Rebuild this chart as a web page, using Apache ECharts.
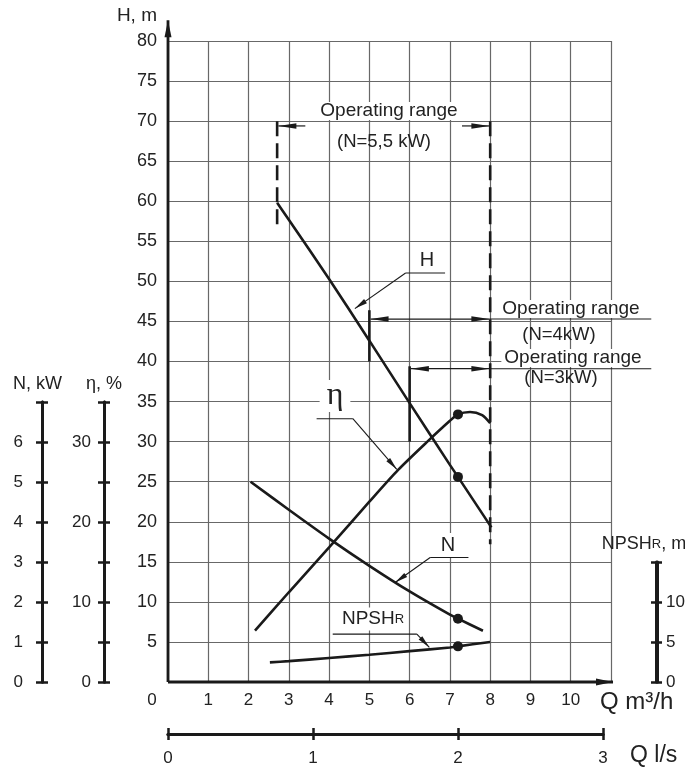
<!DOCTYPE html>
<html><head><meta charset="utf-8">
<script src="https://cdn.jsdelivr.net/npm/echarts@6/dist/echarts.min.js"></script>
<style>html,body{margin:0;padding:0;background:#fff}#c{width:685px;height:767px}</style>
</head><body><div id="c"></div>
<script>
// ---------- data (Q in m3/h) ----------
const hQ = [2.71, 3, 4, 5, 6, 7, 7.2, 8.03];
const hVal = [59.8, 57.7, 50.3, 42.6, 34.8, 27.1, 25.6, 19.3];          // H, m
const etaQ = [2.16, 3, 4, 5, 5.72, 6.44, 7.0, 7.2, 7.5, 7.8, 8.0];
const etaVal = [6.4, 11.2, 16.8, 22.5, 26.5, 30.0, 32.6, 33.4, 33.7, 33.3, 32.3]; // eta, %
const nQ = [2.05, 3, 4, 5, 6, 7, 7.2, 7.82];
const nVal = [5.0, 4.3, 3.58, 2.9, 2.26, 1.68, 1.58, 1.28];              // N, kW
const npshQ = [2.53, 3, 4, 5, 6, 7, 7.2, 8.0];
const npshVal = [2.45, 2.6, 3.0, 3.4, 3.85, 4.3, 4.45, 5.0];              // NPSHr, m
const dotQ = 7.2;

// tick labels
const qTicks = [0,1,2,3,4,5,6,7,8,9,10];
const lsTicks = [0,1,2,3];
const hTicks = [5,10,15,20,25,30,35,40,45,50,55,60,65,70,75,80];
const nTicks = [0,1,2,3,4,5,6];
const etaTicks = [0,10,20,30];
const npshTicks = [0,5,10];

// annotations (data units: Q m3/h, H m)
const axisArrows = [[0,0,0,82.6],[0,0,11.05,0]];
const rangeDashed = [[2.71,70,56.6],[8.0,70,17.2]];
const rangeBars = [[5,40,46.4],[6,30,39.4]];
const rangeArrows = [[2.74,3.41,69.4,1,0],[7.30,7.98,69.4,0,1],[5.03,7.98,45.3,1,1],[6.03,7.98,39.1,1,1]];
const underlines = [[7.98,12.0,45.3],[7.98,12.0,39.1],[5.90,6.88,51.05],[3.69,4.59,32.86],[6.51,7.46,15.54],[4.09,6.18,5.98]];
const leaders = [[5.90,51.05,4.64,46.6],[4.59,32.86,5.68,26.54],[6.51,15.54,5.64,12.42],[6.18,5.98,6.49,4.32]];

// ---------- chart ----------
const FONT = '"Liberation Sans", Arial, Helvetica, sans-serif';
const INK = '#1a1a1a';
const GRIDC = '#686868';
const chart = echarts.init(document.getElementById('c'));

function curveData(xs, ys){ return xs.map((x,i)=>({value:[x,ys[i]], symbol: x===dotQ?'circle':'none'})); }
function seg(a,b,w,dash){ return {type:'line', shape:{x1:a[0],y1:a[1],x2:b[0],y2:b[1]}, style:{stroke:INK, lineWidth:w, lineDash:dash||null, fill:null}}; }
function head(tip, from, len, w){
  const dx=tip[0]-from[0], dy=tip[1]-from[1], L=Math.hypot(dx,dy)||1;
  const ux=dx/L, uy=dy/L, bx=tip[0]-ux*len, by=tip[1]-uy*len, nx=-uy*w/2, ny=ux*w/2;
  return {type:'polygon', shape:{points:[[tip[0],tip[1]],[bx+nx,by+ny],[bx-nx,by-ny]]}, style:{fill:INK, stroke:null}};
}
function custom(data, fn){
  return {type:'custom', coordinateSystem:'cartesian2d', xAxisIndex:0, yAxisIndex:0, data, silent:true, clip:false, z:4,
    renderItem:(p,api)=>({type:'group', children: fn(api)})};
}
function lineSeries(name, xs, ys, yi){
  return {name, type:'line', xAxisIndex:0, yAxisIndex:yi, data:curveData(xs,ys), smooth:0.25,
    showSymbol:true, showAllSymbol:true,
    symbolSize:10, itemStyle:{color:INK}, lineStyle:{color:INK, width:2.6}, z:3, silent:true};
}
function sideAxis(grid, max, interval, labels, pos, margin, name, nameExtra){
  const base = {gridIndex:grid, type:'value', min:0, max, interval, position:pos,
    axisLine:{show:true, lineStyle:{color:INK, width:3}}, splitLine:{show:false}};
  return [
    Object.assign({}, base, {
      axisTick:{show:true, inside:false, length:6, lineStyle:{color:INK, width:2.5}},
      axisLabel:{show:true, margin, fontSize:17, color:'#222', fontFamily:FONT, formatter:v=>labels.includes(v)?String(v):''},
      name, nameLocation:'end', nameGap:9,
      nameTextStyle:Object.assign({fontSize:18, color:'#222', fontFamily:FONT}, nameExtra||{})
    }),
    Object.assign({}, base, {axisTick:{show:true, inside:true, length:6, lineStyle:{color:INK, width:2.5}}, axisLabel:{show:false}})
  ];
}
const hiddenX = g => ({gridIndex:g, type:'value', min:0, max:1, show:false});

const grids = [
  {left:168, top:41, width:443, height:641},   // main
  {left:168, top:733, width:435, height:1},    // Q l/s
  {left:42, top:402, width:1, height:280},     // N
  {left:104, top:402, width:1, height:280},    // eta
  {left:656, top:562, width:1, height:120}     // NPSH
].map(g=>Object.assign(g,{outerBoundsMode:'none', containLabel:false}));

const lsBase = {gridIndex:1, type:'value', min:0, max:3, interval:1, position:'bottom',
  axisLine:{show:true, lineStyle:{color:INK, width:3}}, splitLine:{show:false}};

const option = {
  animation:false,
  backgroundColor:'#fff',
  textStyle:{fontFamily:FONT},
  grid: grids,
  xAxis:[
    {gridIndex:0, type:'value', min:0, max:11, interval:1, axisLine:{show:false}, axisTick:{show:false},
     splitLine:{show:true, lineStyle:{color:GRIDC, width:1.2}},
     axisLabel:{margin:10, fontSize:17, color:'#222', fontFamily:FONT,
       formatter:v=> v===0 ? '{z|0}' : (qTicks.includes(v)?String(v):''),
       rich:{z:{padding:[0,32,0,0], fontSize:17, color:'#222', fontFamily:FONT}}}},
    Object.assign({}, lsBase, {axisTick:{show:true, inside:false, length:6, lineStyle:{color:INK,width:2.5}},
      axisLabel:{margin:16, fontSize:17, color:'#222', fontFamily:FONT, formatter:v=>lsTicks.includes(v)?String(v):''}}),
    Object.assign({}, lsBase, {axisTick:{show:true, inside:true, length:6, lineStyle:{color:INK,width:2.5}}, axisLabel:{show:false}}),
    hiddenX(2), hiddenX(3), hiddenX(4)
  ],
  yAxis:[
    {gridIndex:0, type:'value', min:0, max:80, interval:5, axisLine:{show:false}, axisTick:{show:false},
     splitLine:{show:true, lineStyle:{color:GRIDC, width:1.2}},
     axisLabel:{margin:11, fontSize:18, color:'#222', fontFamily:FONT, formatter:v=>hTicks.includes(v)?String(v):''}},
    {gridIndex:0, type:'value', min:0, max:16, show:false},   // N kW
    {gridIndex:0, type:'value', min:0, max:80, show:false},   // eta %
    {gridIndex:0, type:'value', min:0, max:80, show:false},   // NPSH m
    {gridIndex:1, type:'value', min:0, max:1, show:false},
    ...sideAxis(2, 7, 1, nTicks, 'left', 19, 'N, kW', {padding:[0,9,0,0]}),
    ...sideAxis(3, 35, 5, etaTicks, 'left', 13, 'η, %', {}),
    ...sideAxis(4, 15, 5, npshTicks, 'right', 9, '{a|NPSH}{b|R}{a|, m}',
      {padding:[0,24,0,0], rich:{a:{fontSize:18, color:'#222', fontFamily:FONT}, b:{fontSize:13, color:'#222', fontFamily:FONT}}})
  ],
  series:[
    lineSeries('H', hQ, hVal, 0),
    lineSeries('N', nQ, nVal, 1),
    lineSeries('eta', etaQ, etaVal, 2),
    lineSeries('NPSH', npshQ, npshVal, 3),
    custom(axisArrows, api=>{
      const a=api.coord([api.value(0),api.value(1)]), b=api.coord([api.value(2),api.value(3)]);
      return [seg(a,b,2.8), head(b,a,17,7)];
    }),
    custom(rangeDashed, api=>{
      const a=api.coord([api.value(0),api.value(1)]), b=api.coord([api.value(0),api.value(2)]);
      return [seg(a,b,2.6,[15,7])];
    }),
    custom(rangeBars, api=>{
      const a=api.coord([api.value(0),api.value(1)]), b=api.coord([api.value(0),api.value(2)]);
      return [seg(a,b,2.6)];
    }),
    custom(rangeArrows, api=>{
      const a=api.coord([api.value(0),api.value(2)]), b=api.coord([api.value(1),api.value(2)]);
      const out=[seg(a,b,1.2)];
      if(api.value(3)) out.push(head(a,b,18,5.5));
      if(api.value(4)) out.push(head(b,a,18,5.5));
      return out;
    }),
    custom(underlines, api=>{
      const a=api.coord([api.value(0),api.value(2)]), b=api.coord([api.value(1),api.value(2)]);
      return [seg(a,b,1.1)];
    }),
    custom(leaders, api=>{
      const a=api.coord([api.value(0),api.value(1)]), b=api.coord([api.value(2),api.value(3)]);
      return [seg(a,b,1.1), head(b,a,13,5)];
    })
  ],
  graphic:[]
};

function txt(t, x, y, size, opts){
  return Object.assign({type:'text', x, y, z:1, silent:true,
    style:Object.assign({text:t, font:size+'px '+FONT, fill:'#222', align:'center', verticalAlign:'middle',
      textAlign:'center', textVerticalAlign:'middle'}, opts||{})});
}
const bg = {backgroundColor:'#fff', padding:[0,3], lineHeight:18};
option.graphic = [
  txt('H, m', 157, 16, 19, {align:'right', textAlign:'right'}),
  txt('Operating range', 389, 111, 19, bg),
  txt('(N=5,5 kW)', 384, 142, 18.5),
  txt('Operating range', 571, 309, 19, bg),
  txt('(N=4kW)', 559, 335, 18.5),
  txt('Operating range', 573, 358, 19, bg),
  txt('(N=3kW)', 561, 378, 18.5),
  txt('H', 427, 260, 20, {backgroundColor:'#fff', padding:[2,4]}),
  txt('N', 448, 545, 20, {backgroundColor:'#fff', padding:[2,4]}),
  {type:'text', x:373, y:619, z:1, silent:true, style:{text:'{a|NPSH}{b|R}', align:'center', verticalAlign:'middle',
    textAlign:'center', textVerticalAlign:'middle', backgroundColor:'#fff', padding:[2,3],
    rich:{a:{font:'19px '+FONT, fill:'#222'}, b:{font:'13px '+FONT, fill:'#222'}}}},
  txt('η', 335, 396, 32, {font:'32px "Liberation Serif", "DejaVu Serif", serif', backgroundColor:'#fff', padding:[0,7]}),
  txt('Q m³/h', 600, 702, 24, {align:'left', textAlign:'left'}),
  txt('Q l/s', 630, 756, 23, {align:'left', textAlign:'left'})
];

chart.setOption(option);
</script>
</body></html>
